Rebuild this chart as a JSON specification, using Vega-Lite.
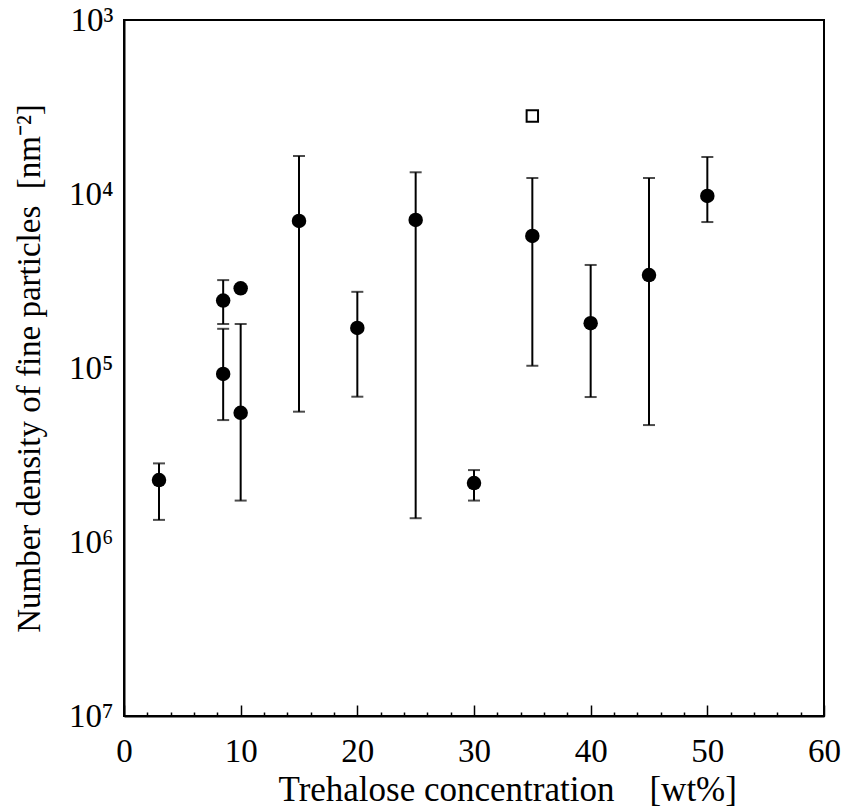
{
  "$schema": "https://vega.github.io/schema/vega-lite/v6.json",
  "width": 700,
  "height": 696,
  "autosize": {"type": "none"},
  "padding": {"left": 124, "top": 20, "right": 20, "bottom": 92},
  "background": "white",
  "config": {
    "view": {"stroke": "black", "strokeWidth": 2},
    "axis": {
      "grid": false,
      "domainColor": "black",
      "domainWidth": 2,
      "tickColor": "black",
      "tickWidth": 1.5,
      "labelFont": "Liberation Serif",
      "labelFontSize": 33,
      "labelColor": "black",
      "titleFont": "Liberation Serif",
      "titleFontSize": 33,
      "titleFontWeight": "normal",
      "titleColor": "black"
    }
  },
  "datasets": {
    "pts": [
      {"conc": 3, "density": 2.27e-6, "lo": 1.34e-6, "hi": 2.83e-6},
      {"conc": 8.5, "density": 2.44e-5, "lo": 1.79e-5, "hi": 3.2e-5},
      {"conc": 8.5, "density": 9.24e-6, "lo": 5.02e-6, "hi": 1.68e-5},
      {"conc": 10, "density": 2.87e-5, "lo": null, "hi": null},
      {"conc": 10, "density": 5.53e-6, "lo": 1.73e-6, "hi": 1.79e-5},
      {"conc": 15, "density": 7.0e-5, "lo": 5.61e-6, "hi": 1.654e-4},
      {"conc": 20, "density": 1.7e-5, "lo": 6.84e-6, "hi": 2.74e-5},
      {"conc": 25, "density": 7.09e-5, "lo": 1.37e-6, "hi": 1.333e-4},
      {"conc": 30, "density": 2.18e-6, "lo": 1.73e-6, "hi": 2.59e-6},
      {"conc": 35, "density": 5.74e-5, "lo": 1.03e-5, "hi": 1.236e-4},
      {"conc": 40, "density": 1.81e-5, "lo": 6.81e-6, "hi": 3.91e-5},
      {"conc": 45, "density": 3.42e-5, "lo": 4.7e-6, "hi": 1.236e-4},
      {"conc": 50, "density": 9.74e-5, "lo": 6.9e-5, "hi": 1.632e-4}
    ],
    "sq": [
      {"conc": 35, "density": 2.81e-4}
    ]
  },
  "resolve": {"axis": {"x": "independent"}},
  "layer": [
    {
      "data": {"name": "pts"},
      "transform": [{"filter": "datum.lo != null"}],
      "mark": {"type": "rule", "color": "black", "strokeWidth": 2},
      "encoding": {
        "x": {
          "field": "conc", "type": "quantitative",
          "scale": {"domain": [0, 60], "nice": false, "zero": false},
          "axis": {
            "orient": "bottom",
            "values": [0, 10, 20, 30, 40, 50, 60],
            "tickSize": -11,
            "labelPadding": 30,
            "labelFlush": false,
            "title": "Trehalose concentration\u00a0\u00a0\u00a0\u00a0[wt%]",
            "titleFontSize": 35,
            "titleAnchor": "start",
            "titleAlign": "left",
            "titleX": 154,
            "titlePadding": 4
          }
        },
        "y": {
          "field": "lo", "type": "quantitative",
          "scale": {"type": "log", "domain": [1e-7, 1e-3], "nice": false},
          "axis": {
            "values": [1e-7, 1e-6, 1e-5, 1e-4, 1e-3],
            "ticks": false,
            "labelPadding": 11,
            "labelFlush": false,
            "labelExpr": "round(-log(datum.value)/LN10) == 3 ? '10³' : round(-log(datum.value)/LN10) == 4 ? '10⁴' : round(-log(datum.value)/LN10) == 5 ? '10⁵' : round(-log(datum.value)/LN10) == 6 ? '10⁶' : '10⁷'",
            "title": "Number density of fine particles\u00a0\u00a0[nm⁻²]",
            "titlePadding": 22
          }
        },
        "y2": {"field": "hi"}
      }
    },
    {
      "data": {"name": "pts"},
      "transform": [{"filter": "datum.lo != null"}],
      "mark": {"type": "tick", "orient": "horizontal", "color": "black", "size": 12, "thickness": 2},
      "encoding": {
        "x": {
          "field": "conc", "type": "quantitative",
          "axis": {
            "orient": "bottom",
            "values": [2, 4, 6, 8, 12, 14, 16, 18, 22, 24, 26, 28, 32, 34, 36, 38, 42, 44, 46, 48, 52, 54, 56, 58],
            "tickSize": -4,
            "labels": false,
            "domain": false,
            "title": null
          }
        },
        "y": {
          "field": "lo", "type": "quantitative",
          "axis": {
            "values": [1e-7, 1e-6, 1e-5, 1e-4, 1e-3],
            "ticks": false,
            "labelPadding": 11,
            "labelFlush": false,
            "labelExpr": "round(-log(datum.value)/LN10) == 3 ? '10³' : round(-log(datum.value)/LN10) == 4 ? '10⁴' : round(-log(datum.value)/LN10) == 5 ? '10⁵' : round(-log(datum.value)/LN10) == 6 ? '10⁶' : '10⁷'",
            "title": "Number density of fine particles\u00a0\u00a0[nm⁻²]",
            "titlePadding": 22
          }
        }
      }
    },
    {
      "data": {"name": "pts"},
      "transform": [{"filter": "datum.lo != null"}],
      "mark": {"type": "tick", "orient": "horizontal", "color": "black", "size": 12, "thickness": 2},
      "encoding": {
        "x": {"field": "conc", "type": "quantitative", "axis": null},
        "y": {
          "field": "hi", "type": "quantitative",
          "axis": {
            "values": [1e-7, 1e-6, 1e-5, 1e-4, 1e-3],
            "ticks": false,
            "labelPadding": 11,
            "labelFlush": false,
            "labelExpr": "round(-log(datum.value)/LN10) == 3 ? '10³' : round(-log(datum.value)/LN10) == 4 ? '10⁴' : round(-log(datum.value)/LN10) == 5 ? '10⁵' : round(-log(datum.value)/LN10) == 6 ? '10⁶' : '10⁷'",
            "title": "Number density of fine particles\u00a0\u00a0[nm⁻²]",
            "titlePadding": 22
          }
        }
      }
    },
    {
      "data": {"name": "pts"},
      "mark": {"type": "point", "shape": "circle", "filled": true, "color": "black", "opacity": 1, "size": 210},
      "encoding": {
        "x": {"field": "conc", "type": "quantitative", "axis": null},
        "y": {
          "field": "density", "type": "quantitative",
          "axis": {
            "values": [1e-7, 1e-6, 1e-5, 1e-4, 1e-3],
            "ticks": false,
            "labelPadding": 11,
            "labelFlush": false,
            "labelExpr": "round(-log(datum.value)/LN10) == 3 ? '10³' : round(-log(datum.value)/LN10) == 4 ? '10⁴' : round(-log(datum.value)/LN10) == 5 ? '10⁵' : round(-log(datum.value)/LN10) == 6 ? '10⁶' : '10⁷'",
            "title": "Number density of fine particles\u00a0\u00a0[nm⁻²]",
            "titlePadding": 22
          }
        }
      }
    },
    {
      "data": {"name": "sq"},
      "mark": {"type": "point", "shape": "square", "filled": false, "color": "black", "opacity": 1, "strokeWidth": 2, "size": 130},
      "encoding": {
        "x": {"field": "conc", "type": "quantitative", "axis": null},
        "y": {
          "field": "density", "type": "quantitative",
          "axis": {
            "values": [1e-7, 1e-6, 1e-5, 1e-4, 1e-3],
            "ticks": false,
            "labelPadding": 11,
            "labelFlush": false,
            "labelExpr": "round(-log(datum.value)/LN10) == 3 ? '10³' : round(-log(datum.value)/LN10) == 4 ? '10⁴' : round(-log(datum.value)/LN10) == 5 ? '10⁵' : round(-log(datum.value)/LN10) == 6 ? '10⁶' : '10⁷'",
            "title": "Number density of fine particles\u00a0\u00a0[nm⁻²]",
            "titlePadding": 22
          }
        }
      }
    }
  ]
}
